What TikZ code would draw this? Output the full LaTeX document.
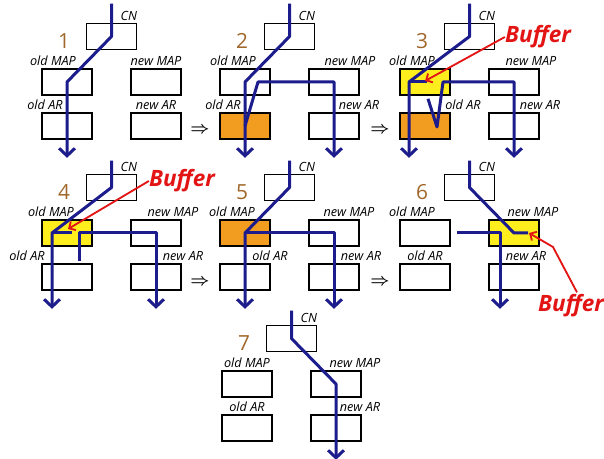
\documentclass[tikz,border=0pt]{standalone}
\usepackage{fontspec}
\setmainfont{Open Sans}
\usetikzlibrary{arrows.meta,calc}

\definecolor{flowblue}{RGB}{28,28,140}
\definecolor{bufyellow}{RGB}{255,238,30}
\definecolor{busyorange}{RGB}{242,156,32}
\definecolor{numbrown}{RGB}{160,102,42}
\definecolor{bufred}{RGB}{226,20,20}

\begin{document}
\begin{tikzpicture}[x=0.6pt,y=-0.6pt,
  box/.style={draw, line width=1pt, minimum width=30pt, minimum height=15.6pt, inner sep=0pt},
  lbl/.style={font=\fontsize{7.6}{8}\selectfont\itshape, inner sep=0pt, anchor=south},
  num/.style={font=\fontsize{12.5}{14}\selectfont, text=numbrown, inner sep=0pt},
  flow/.style={draw=flowblue, line width=1.8pt, line join=round},
  flowend/.style={flow, -{Straight Barb[length=4.5pt,width=9.5pt]}},
  buf/.style={font=\fontsize{13.5}{15}\selectfont\bfseries\itshape, text=bufred, inner sep=0pt},
  ptr/.style={draw=bufred, line width=1.1pt, -{Straight Barb[length=3pt,width=6pt]}},
  nextarr/.style={font=\fontsize{10}{11}\selectfont\boldmath, inner sep=0pt}]

\useasboundingbox (0,0) rectangle (604,459);

% the seven snapshots: boxes, labels, numbers
\foreach \n/\px/\py/\fom/\foa/\fnm/\lom/\loa/\lnm/\lna in {
    1/42/24/white/white/white/-14/-22/0/0,
    2/220/24/white/busyorange/white/-12/-22/16/25,
    3/400/24/bufyellow/busyorange/white/-13/38/17/26,
    4/42/175/bufyellow/white/white/-16/-40/17/27,
    5/220/175/busyorange/white/white/-13/25/15/27,
    6/400/175/white/white/bufyellow/-13/0/19/12,
    7/222/326/white/white/white/0/0/19/24}
{
  \node[box] (cn\n) at (\px+69.5,\py+12.5) {};
  \node[box, fill=\fom] (om\n) at (\px+25,\py+58) {};
  \node[box, fill=\fnm] (nm\n) at (\px+114,\py+58) {};
  \node[box, fill=\foa] (oa\n) at (\px+25,\py+102) {};
  \node[box] (na\n) at (\px+114,\py+102) {};
  \node[num] (num\n) at (\px+22,\py+17) {\n};
  \node[lbl, anchor=south east] (lcn\n) at ($(cn\n.north east)+(0,-2)$) {CN};
  \node[lbl] (lom\n) at ($(om\n.north)+(\lom,-2)$) {old MAP};
  \node[lbl] (lnm\n) at ($(nm\n.north)+(\lnm,-2)$) {new MAP};
  \node[lbl] (loa\n) at ($(oa\n.north)+(\loa,-2)$) {old AR};
  \node[lbl] (lna\n) at ($(na\n.north)+(\lna,-2)$) {new AR};
}

% steps
\node[nextarr] (go12) at (200,130) {$\Rightarrow$};
\node[nextarr] (go23) at (380,130) {$\Rightarrow$};
\node[nextarr] (go45) at (200,282) {$\Rightarrow$};
\node[nextarr] (go56) at (380,282) {$\Rightarrow$};

% 1
\draw[flowend] ($(cn1.north)+(0,-19)$) -- (cn1.center) -- (om1.center) -- ($(oa1.south)+(0,18)$);

% 2
\draw[flowend] ($(cn2.north)+(0,-19)$) -- (cn2.center) -- (om2.center) -- ($(oa2.south)+(0,18)$);
\draw[flowend] (oa2.center) -- ($(om2.center)+(13,0)$) -- (nm2.center) -- ($(na2.south)+(0,18)$);

% 3
\coordinate (b3) at ($(om3.center)+(-16,0)$);
\draw[flowend] ($(cn3.north)+(0,-19)$) -- (cn3.center) -- (b3) -- ($(oa3.south)+(-16,18)$);
\draw[flow] (b3) -- ($(om3.center)+(2,0)$);
\draw[flowend] ($(om3.south)+(3,3)$) -- ($(oa3.center)+(12,1)$) -- ($(om3.center)+(18,0)$)
  -- (nm3.center) -- ($(na3.south)+(0,18)$);
\node[buf] (buf3) at (538,37) {Buffer};
\draw[ptr] (buf3.west) -- ($(om3.center)+(0,-1)$);

% 4
\coordinate (b4) at ($(om4.center)+(-15,0)$);
\draw[flowend] ($(cn4.north)+(0,-13)$) -- (cn4.center) -- (b4) -- ($(oa4.south)+(-15,18)$);
\draw[flow] (b4) -- ($(om4.center)+(5,0)$);
\draw[flowend] ($(om4.south)+(12,14)$) -- ($(om4.center)+(12,0)$) -- (nm4.center) -- ($(na4.south)+(0,18)$);
\node[buf] (buf4) at (182,181) {Buffer};
\draw[ptr] (buf4.west) -- ($(om4.center)+(1,-4)$);

% 5
\draw[flowend] ($(cn5.north)+(0,-13)$) -- (cn5.center) -- (om5.center) -- ($(oa5.south)+(0,18)$);
\draw[flowend] (om5.center) -- (nm5.center) -- ($(na5.south)+(0,18)$);

% 6
\draw[flow] ($(cn6.north)+(0,-13)$) -- (cn6.center) -- (nm6.center) -- ($(nm6.center)+(14,0)$);
\draw[flowend] ($(om6.east)+(6,0)$) -- ($(nm6.center)+(-14,0)$) -- ($(na6.south)+(-14,18)$);
\node[buf] (buf6) at (571,306) {Buffer};
\draw[ptr] ($(buf6.north)+(6,-2)$) -- ($(nm6.center)+(39,14)$) -- ($(nm6.center)+(15,0)$);

% 7
\draw[flowend] ($(cn7.north)+(0,-14)$) -- (cn7.center) -- (nm7.center) -- ($(na7.south)+(0,18)$);
\end{tikzpicture}
\end{document}
